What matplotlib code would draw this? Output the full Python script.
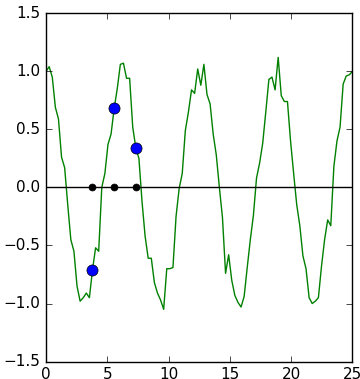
import numpy as np
import matplotlib

matplotlib.use("Agg")

import matplotlib.pyplot as plt


# noisy signal sampled on 100 points between 0 and 25
X_START, X_STOP, N_SAMPLES = 0, 25, 100
SIGNAL = [
    1.00, 1.04, 0.95, 0.69, 0.59, 0.26, 0.17, -0.15, -0.45, -0.55,
    -0.85, -0.98, -0.95, -0.91, -0.95, -0.71, -0.52, -0.55, 0.00, 0.12,
    0.37, 0.46, 0.68, 0.85, 1.06, 1.07, 0.94, 0.94, 0.52, 0.34,
    0.25, -0.12, -0.42, -0.61, -0.61, -0.82, -0.91, -0.97, -1.05, -0.70,
    -0.70, -0.69, -0.25, -0.01, 0.12, 0.49, 0.65, 0.84, 0.81, 1.02,
    0.88, 1.06, 0.80, 0.72, 0.46, 0.28, 0.00, -0.26, -0.74, -0.58,
    -0.80, -0.93, -0.99, -1.03, -0.94, -0.69, -0.45, -0.24, 0.08, 0.21,
    0.38, 0.65, 0.93, 0.95, 0.84, 1.12, 0.79, 0.74, 0.74, 0.40,
    0.12, -0.15, -0.33, -0.59, -0.70, -0.95, -1.00, -0.98, -0.95, -0.68,
    -0.45, -0.28, -0.33, 0.18, 0.40, 0.52, 0.89, 0.96, 0.97, 1.00,
]

# picked samples (indices into the signal)
PICKED = [15, 22, 29]

X_TICKS = [0, 5, 10, 15, 20, 25]
Y_TICKS = [-1.5, -1.0, -0.5, 0.0, 0.5, 1.0, 1.5]


def main() -> None:
    plt.style.use("classic")
    x = np.linspace(X_START, X_STOP, N_SAMPLES)
    y = np.array(SIGNAL)
    px = x[PICKED]
    py = y[PICKED]

    fig = plt.figure(figsize=(3.6, 3.79), dpi=100, facecolor="white")
    ax = fig.add_axes([0.128, 0.046, 0.851, 0.919])

    ax.plot(x, y, color="g", linewidth=1.0)
    ax.axhline(0, color="k", linewidth=1.0)
    ax.plot(px, np.zeros_like(px), "o", color="k", markersize=5)
    ax.plot(px, py, "o", color="b", markeredgecolor="k", markersize=8)

    ax.set_xlim(X_START, X_STOP)
    ax.set_ylim(-1.5, 1.5)
    ax.set_xticks(X_TICKS)
    ax.set_yticks(Y_TICKS)
    ax.tick_params(labelsize=11)

    fig.savefig("out.png", dpi=100, facecolor="white")


if __name__ == "__main__":
    main()
